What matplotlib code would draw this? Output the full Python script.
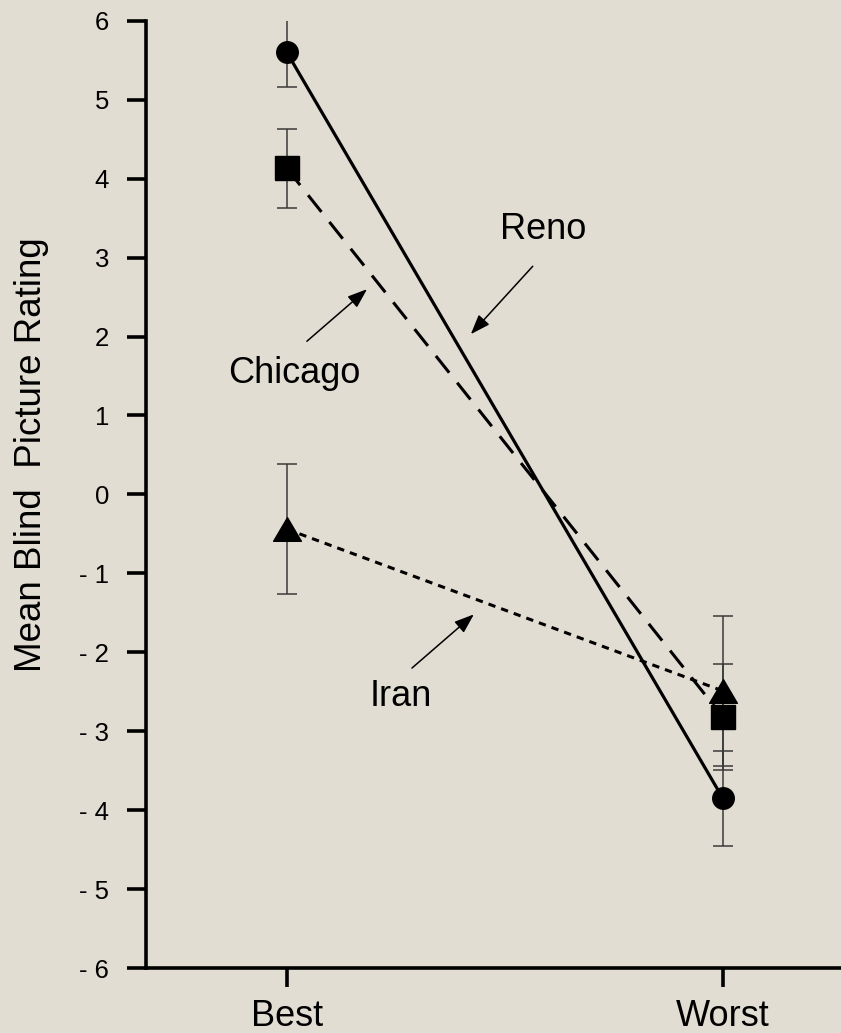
import matplotlib
matplotlib.use("Agg")
import matplotlib.pyplot as plt
from matplotlib.path import Path

# ------------------ Datos ------------------
grupos = ["Best", "Worst"]
x_pos = [0, 1]

reno_media = [5.60, -3.85]
reno_err = [0.44, 0.60]

chicago_media = [4.13, -2.82]
chicago_err = [0.50, 0.67]

iran_media = [-0.44, -2.49]
iran_err = [0.82, 0.95]

y_ticks = [6, 5, 4, 3, 2, 1, 0, -1, -2, -3, -4, -5, -6]
y_labels = ["6", "5", "4", "3", "2", "1", "0",
            "- 1", "- 2", "- 3", "- 4", "- 5", "- 6"]

# ------------------ Estilo ------------------
FONDO = "#e2ddd2"
plt.rcParams["font.family"] = ["Liberation Sans", "DejaVu Sans"]

fig = plt.figure(figsize=(8.41, 10.33), dpi=100, facecolor=FONDO)
ax = fig.add_axes([0.1736, 0.0629, 0.8264, 0.917])
ax.set_facecolor(FONDO)

# triangulo mas ancho que alto
tri = Path([(-1, -0.85), (1, -0.85), (0, 0.85), (-1, -0.85)],
           [Path.MOVETO, Path.LINETO, Path.LINETO, Path.CLOSEPOLY])

err_kw = dict(ecolor="#3a3a3a", elinewidth=1.1, capsize=7.5, capthick=1.1, zorder=2)

# Reno: linea solida + circulos
ax.errorbar(x_pos, reno_media, yerr=reno_err, fmt="none", **err_kw)
ax.plot(x_pos, reno_media, color="black", lw=2.3, zorder=3)
ax.plot(x_pos, reno_media, "o", color="black", ms=15.5, zorder=5)

# Chicago: linea de rayas + cuadrados
ax.errorbar(x_pos, chicago_media, yerr=chicago_err, fmt="none", **err_kw)
l_chi, = ax.plot(x_pos, chicago_media, color="black", lw=2.2, zorder=3)
l_chi.set_dashes((7, 4.2))
ax.plot(x_pos, chicago_media, "s", color="black", ms=17, zorder=5)

# Iran: linea punteada + triangulos
ax.errorbar(x_pos, iran_media, yerr=iran_err, fmt="none", **err_kw)
l_iran, = ax.plot(x_pos, iran_media, color="black", lw=2.2, zorder=3)
l_iran.set_dashes((2.4, 2.0))
ax.plot(x_pos, iran_media, marker=tri, ls="none", color="black", ms=20, zorder=5)

# ------------------ Etiquetas con flechas ------------------
flecha = dict(arrowstyle="-|>,head_length=0.6,head_width=0.22", color="black",
              lw=1.1, mutation_scale=20, shrinkA=0, shrinkB=0)

ax.annotate("", xy=(0.422, 2.03), xytext=(0.564, 2.89), arrowprops=flecha)
ax.text(0.588, 3.35, "Reno", fontsize=26, ha="center", va="center")

ax.annotate("", xy=(0.184, 2.60), xytext=(0.046, 1.94), arrowprops=flecha)
ax.text(0.018, 1.53, "Chicago", fontsize=26, ha="center", va="center")

ax.annotate("", xy=(0.429, -1.52), xytext=(0.287, -2.2), arrowprops=flecha)
ax.text(0.261, -2.56, "Iran", fontsize=26, ha="center", va="center")

# ------------------ Ejes ------------------
ax.set_xlim(-0.323, 1.271)
ax.set_ylim(-6, 6)
ax.set_xticks(x_pos)
ax.set_xticklabels(grupos, fontsize=26)
ax.set_yticks(y_ticks)
ax.set_yticklabels(y_labels, fontsize=18.5)

ax.spines["top"].set_visible(False)
ax.spines["right"].set_visible(False)
for s in ["left", "bottom"]:
    ax.spines[s].set_linewidth(2.6)
ax.tick_params(axis="both", direction="out", length=13.5, width=2.6, color="black")
ax.tick_params(axis="y", pad=13)
ax.tick_params(axis="x", pad=9)

ax.set_ylabel("Mean Blind  Picture Rating", fontsize=26.5)
ax.yaxis.set_label_coords(-0.14, 0.5417)

fig.savefig("out.png", dpi=100, facecolor=FONDO)
